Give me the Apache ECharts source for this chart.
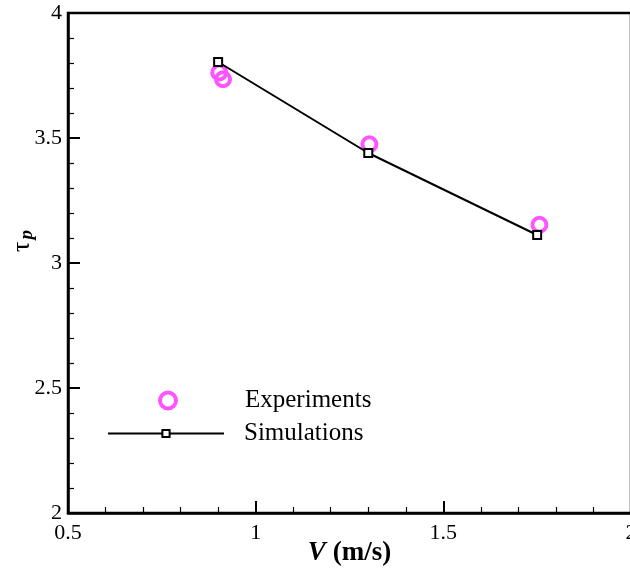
<!DOCTYPE html>
<html><head><meta charset="utf-8">
<script src="https://cdn.jsdelivr.net/npm/echarts@6/dist/echarts.min.js"></script>
<style>html,body{margin:0;padding:0;background:#fff}#c{width:630px;height:571px}</style>
</head><body><div id="c"></div>
<script>
const expV = [0.903, 0.913, 1.303, 1.756];
const expTau = [3.762, 3.735, 3.475, 3.153];
const simV = [0.9, 1.3, 1.75];
const simTau = [3.804, 3.44, 3.112];
const xTicks = [0.5, 1, 1.5, 2];
const yTicks = [2, 2.5, 3, 3.5, 4];

const serif = "'Liberation Serif','Times New Roman',serif";
const chart = echarts.init(document.getElementById('c'));
chart.setOption({
  animation: false,
  backgroundColor: '#fff',
  grid: {left: 68, top: 13, width: 563, height: 500, show: true, borderColor: '#000', borderWidth: 2.5,
         backgroundColor: 'transparent', containLabel: false, outerBoundsMode: 'none'},
  legend: [
    {data: [{name: 'Experiments', icon: 'circle'}], left: 158, top: 388, padding: 0, orient: 'vertical', itemWidth: 16, itemHeight: 16,
     itemStyle: {color: 'transparent', borderColor: '#ff55ff', borderWidth: 4},
     textStyle: {fontFamily: serif, fontSize: 25, color: '#000', padding: [0, 0, 0, 64]}},
    {data: ['Simulations'], left: 107, top: 421, padding: 0, orient: 'vertical', itemWidth: 116, itemHeight: 9,
     textStyle: {fontFamily: serif, fontSize: 25, color: '#000', padding: [0, 0, 0, 15]}}
  ],
  xAxis: {
    type: 'value', min: 0.5, max: 2, interval: 0.5,
    name: '{v|V}{u|(m/s)}', nameLocation: 'middle', nameGap: 27, nameMoveOverlap: false,
    nameTextStyle: {rich: {v: {fontFamily: serif, fontSize: 27, fontWeight: 'bold', fontStyle: 'italic', color: '#000', padding: [0, 7, 0, 0]},
                           u: {fontFamily: serif, fontSize: 27, fontWeight: 'bold', color: '#000'}}},
    axisLine: {lineStyle: {color: '#000', width: 2.5}},
    axisTick: {inside: true, length: 12, lineStyle: {color: '#000', width: 2}},
    minorTick: {show: true, splitNumber: 5, length: 6, lineStyle: {color: '#000', width: 1.2}},
    splitLine: {show: false},
    axisLabel: {fontFamily: serif, fontSize: 22, color: '#000', margin: 9,
      formatter: v => xTicks.includes(v) ? String(v) : ''}
  },
  yAxis: {
    type: 'value', min: 2, max: 4, interval: 0.5,
    name: '{t|τ}{p|p}', nameLocation: 'middle', nameGap: 31, nameRotate: 90, nameMoveOverlap: false,
    nameTextStyle: {padding: [0, 0, 0, 44], rich: {t: {fontFamily: serif, fontSize: 26, color: '#000'},
                           p: {fontFamily: serif, fontSize: 19, fontWeight: 'bold', fontStyle: 'italic', color: '#000', verticalAlign: 'bottom', padding: [10, 0, 0, 2]}}},
    axisLine: {lineStyle: {color: '#000', width: 2.5}},
    axisTick: {inside: true, length: 12, lineStyle: {color: '#000', width: 2}},
    minorTick: {show: true, splitNumber: 5, length: 6, lineStyle: {color: '#000', width: 1.2}},
    splitLine: {show: false},
    axisLabel: {fontFamily: serif, fontSize: 22, color: '#000', margin: 6,
      formatter: v => yTicks.includes(v) ? String(v) : ''}
  },
  series: [
    {name: 'Experiments', type: 'scatter', data: expV.map((v, i) => [v, expTau[i]]),
     symbol: 'circle', symbolSize: 14, z: 2,
     itemStyle: {color: 'transparent', borderColor: '#ff55ff', borderWidth: 4, opacity: 1}},
    {name: 'Simulations', type: 'line', data: simV.map((v, i) => [v, simTau[i]]),
     symbol: 'rect', symbolSize: 8, showAllSymbol: true, z: 3,
     lineStyle: {color: '#000', width: 2},
     itemStyle: {color: '#fff', borderColor: '#000', borderWidth: 2}}
  ]
});
</script></body></html>
